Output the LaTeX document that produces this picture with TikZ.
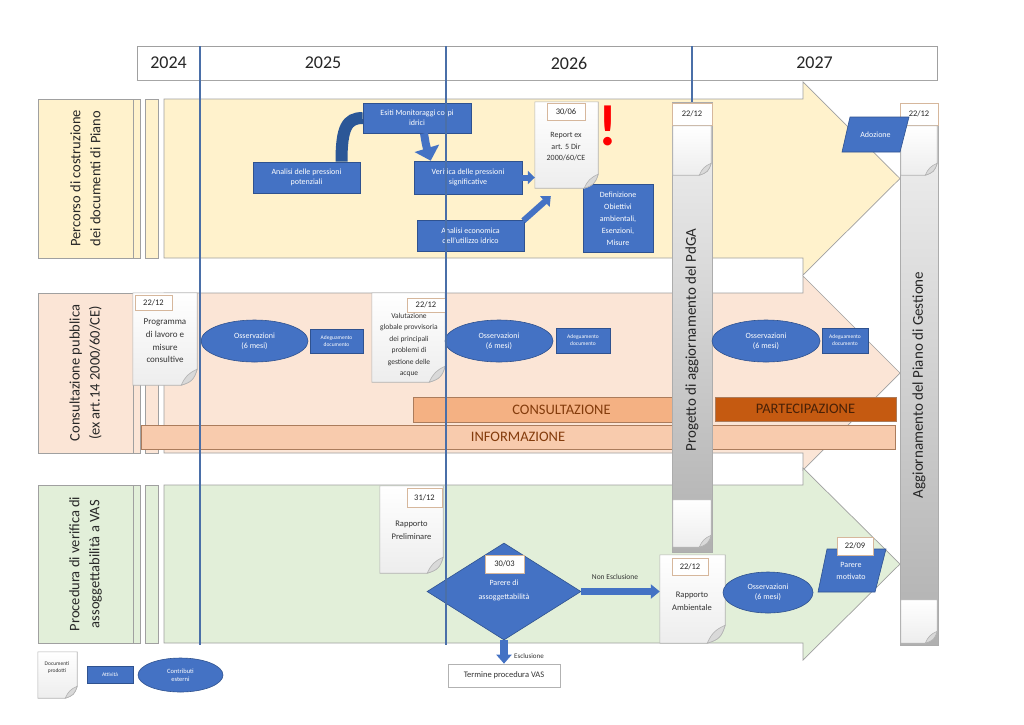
\documentclass[tikz,border=0pt]{standalone}
\usepackage{fontspec}
\setmainfont{Carlito}
\usetikzlibrary{arrows.meta,shapes.geometric,calc}
\definecolor{rowY}{HTML}{FFF2CC}
\definecolor{rowR}{HTML}{FBE5D6}
\definecolor{rowG}{HTML}{E2EFD9}
\definecolor{bxblue}{HTML}{4472C4}
\definecolor{bxborder}{HTML}{2F528F}
\definecolor{arrD}{HTML}{2B5797}
\definecolor{vlinec}{HTML}{4A6FA8}
\definecolor{consult}{HTML}{F4B183}
\definecolor{partec}{HTML}{C55A11}
\definecolor{inform}{HTML}{F8CBAD}
\definecolor{brownT}{HTML}{843C0C}
\definecolor{frame}{HTML}{A0A0A0}
\definecolor{datebd}{HTML}{D6B79C}
\newcommand\fs[2]{\fontsize{#1}{#2}\selectfont}
\newcommand\docpage[2]{%
  \draw[docline, top color=white, bottom color=gray!14]
    let \p1=(#1.north west), \p2=(#1.south east) in
    (\x1,\y1) -- (\x2,\y1) -- (\x2,{\y2+#2})
    .. controls ({\x2-0.2*#2},{\y2+0.35*#2}) and ({\x2-0.35*#2},{\y2+0.2*#2}) .. ({\x2-#2},\y2)
    -- (\x1,\y2) -- cycle;
  \draw[docline, fill=gray!30]
    let \p2=(#1.south east) in
    (\x2,{\y2+#2})
    .. controls ({\x2-0.2*#2},{\y2+0.35*#2}) and ({\x2-0.35*#2},{\y2+0.2*#2}) .. ({\x2-#2},\y2)
    .. controls ({\x2-0.75*#2},{\y2+0.55*#2}) and ({\x2-0.55*#2},{\y2+0.75*#2}) .. (\x2,{\y2+#2}) -- cycle;
}
\tikzset{
  frameline/.style={draw=frame, line width=0.7pt},
  lblbox/.style={rectangle, draw=frame, line width=0.7pt, rotate=90, align=center, font=\fs{14.5}{20}, text=black!85, inner sep=0pt},
  year/.style={font=\fs{18}{20}, text=black!85, inner sep=0pt},
  blk/.style={rectangle, fill=bxblue, draw=bxborder, line width=0.6pt, text=white, align=center, font=\fs{8}{10}, inner sep=1pt},
  ell/.style={ellipse, fill=bxblue, draw=bxborder, line width=0.6pt, text=white, align=center, font=\fs{8}{10}, inner sep=0pt},
  wtxt/.style={text=white, align=center, font=\fs{8}{10}, inner sep=0pt},
  datebox/.style={rectangle, fill=white, draw=datebd, line width=0.8pt, font=\fs{8.5}{10}, text=black!85, inner sep=0pt},
  docbox/.style={rectangle, draw=none, inner sep=0pt},
  doctxt/.style={align=center, font=\fs{8.5}{12}, text=black!80, inner sep=0pt},
  docline/.style={draw=gray!60, line width=0.6pt},
  band/.style={rectangle, draw=consult!70!black, line width=0.4pt, font=\fs{14.5}{16}, text=brownT, inner sep=0pt},
  graybar/.style={rectangle, draw=gray!65, line width=0.6pt, top color=gray!10, bottom color=gray!62, inner sep=0pt},
  bartxt/.style={rotate=90, font=\fs{15}{16}, text=black!85, inner sep=0pt},
  blockarr/.style={draw=bxblue, line width=7pt, -{Triangle[width=15pt,length=9pt]}},
  vline/.style={draw=vlinec, line width=1.4pt},
  lbl/.style={font=\fs{7.5}{9}, text=black!80, inner sep=0pt},
}
\begin{document}
\begin{tikzpicture}[x=1pt,y=-1pt]
\useasboundingbox (0,0) rectangle (1024,724);
\fill[white] (0,0) rectangle (1024,724);

% row arrows
\draw[frameline, fill=rowY] (164,99) -- (803,99) -- (803,82) -- (900,178.5) -- (803,275) -- (803,258) -- (164,258) -- cycle;
\draw[frameline, fill=rowR] (164,293) -- (803,293) -- (803,276) -- (900,373) -- (803,470) -- (803,453) -- (164,453) -- cycle;
\draw[frameline, fill=rowG] (164,485) -- (803,485) -- (803,468) -- (900,564) -- (803,660) -- (803,643) -- (164,643) -- cycle;
\foreach \ya/\yb/\c in {99/258/rowY, 293/453/rowR, 485/643/rowG}{
  \draw[frameline, fill=\c] (133,\ya) rectangle (140,\yb);
  \draw[frameline, fill=\c] (145,\ya) rectangle (158,\yb);
}
\node[lblbox, fill=rowY, minimum width=159pt, minimum height=95pt] (lbl1) at (85.5,178.5) {Percorso di costruzione\\dei documenti di Piano};
\node[lblbox, fill=rowR, minimum width=160pt, minimum height=95pt] (lbl2) at (85.5,373) {Consultazione pubblica\\(ex art.14 2000/60/CE)};
\node[lblbox, fill=rowG, minimum width=158pt, minimum height=95pt] (lbl3) at (85.5,564) {Procedura di verifica di\\assoggettabilità a VAS};

% header
\node[rectangle, draw=frame, fill=white, line width=0.7pt, minimum width=800pt, minimum height=34pt, inner sep=0pt] (hdr) at (537,63) {};
\draw[gray!70, line width=1.5pt] (hdr.south west) -- (hdr.south east);
\node[year] (y24) at (168.5,63) {2024};
\node[year] (y25) at (323,63) {2025};
\node[year] (y26) at (569,63) {2026};
\node[year] (y27) at (814.5,63) {2027};

% bands
\node[band, fill=inform, minimum width=754pt, minimum height=24pt] (info) at (518,437) {INFORMAZIONE};
\node[band, fill=consult, minimum width=297pt, minimum height=25pt] (cons) at (561.5,409.5) {CONSULTAZIONE};
\node[band, fill=partec, minimum width=181pt, minimum height=24pt, text=brownT!55!black] (part) at (805.5,409) {PARTECIPAZIONE};

% gray bars
\node[graybar, minimum width=40pt, minimum height=450pt] (bar1) at (692,327) {};
\node[datebox, minimum width=40pt, minimum height=22pt] (bar1D) at (692,114) {22/12};
\node[docbox, minimum width=38pt, minimum height=49pt] (bar1top) at (692,150.5) {};
\docpage{bar1top}{12pt}
\node[docbox, minimum width=38pt, minimum height=47pt] (bar1bot) at (692,523.5) {};
\docpage{bar1bot}{12pt}
\node[bartxt] (bar1T) at (692,340) {Progetto di aggiornamento del PdGA};

\node[graybar, minimum width=38pt, minimum height=542pt] (bar2) at (919,374) {};
\node[datebox, minimum width=38pt, minimum height=22pt] (bar2D) at (919,114) {22/12};
\node[docbox, minimum width=36pt, minimum height=49pt] (bar2top) at (919,150.5) {};
\docpage{bar2top}{12pt}
\node[docbox, minimum width=36pt, minimum height=43pt] (bar2bot) at (919,621.5) {};
\docpage{bar2bot}{12pt}
\node[bartxt] (bar2T) at (919,385) {Aggiornamento del Piano di Gestione};

% adozione
\draw[fill=bxblue, draw=bxborder, line width=0.6pt] (850,117) -- (909,117) -- (900,152) -- (842,152) -- cycle;
\node[wtxt] (adoz) at (875.5,134.5) {Adozione};

% row 1
\node[blk, minimum width=108pt, minimum height=30pt] (esiti) at (417,118) {Esiti Monitoraggi corpi\\idrici};
\node[blk, minimum width=107pt, minimum height=31pt] (analisi) at (306.5,177.5) {Analisi delle pressioni\\potenziali};
\node[blk, minimum width=108pt, minimum height=33pt] (verifica) at (468,177.5) {Verifica delle pressioni\\significative};
\node[blk, minimum width=107pt, minimum height=31pt] (econ) at (470.5,235.5) {Analisi economica\\dell'utilizzo idrico};
\node[blk, minimum width=70pt, minimum height=68pt, font=\fs{8}{12}] (defin) at (618,218.5) {Definizione\\Obiettivi\\ambientali,\\Esenzioni,\\Misure};
\node[docbox, minimum width=63pt, minimum height=86pt] (report) at (566.5,145) {};
\docpage{report}{14pt}
\node[datebox, minimum width=38pt, minimum height=17pt] (reportD) at (566,111.5) {30/06};
\node[doctxt, font=\fs{8}{11.5}] (reportT) at (566,147) {Report ex\\art. 5 Dir\\2000/60/CE};
\node[text=red, font=\fs{58}{58}\bfseries, inner sep=0pt] (excl) at (608,126) {!};

\draw[draw=arrD, line width=12pt] ($(analisi.north)+(35,0)$) .. controls ($(analisi.north)+(35,-34)$) and ($(esiti.west)+(-16,0)$) .. (esiti.west);
\draw[blockarr, line width=8pt, -{Triangle[width=25pt,length=13pt]}] ($(esiti.south)+(7,0)$) .. controls ($(esiti.south)+(9,12)$) .. ($(verifica.north west)+(17,0)$);
\draw[blockarr, line width=6pt, -{Triangle[width=13pt,length=7pt]}] (verifica.east) -- (verifica.east -| report.west);
\draw[blockarr, line width=6pt, -{Triangle[width=14pt,length=8pt]}] ($(econ.north east)+(-1,1)$) -- ($(report.south west)+(16,8)$);

% row 2
\node[docbox, minimum width=64pt, minimum height=92pt] (prog) at (165,339) {};
\docpage{prog}{16pt}
\node[datebox, minimum width=37pt, minimum height=15pt] (progD) at (153.5,302.5) {22/12};
\node[doctxt, font=\fs{9}{12.7}] (progT) at (165,341) {Programma\\di lavoro e\\misure\\consultive};
\node[ell, minimum width=107pt, minimum height=42pt] (oss1) at (254.5,341) {Osservazioni\\(6 mesi)};
\node[blk, minimum width=53pt, minimum height=24pt, font=\fs{5.5}{7}] (adeg1) at (336.5,341) {Adeguamento\\documento};

\node[docbox, minimum width=73pt, minimum height=89pt] (valut) at (408.5,337.5) {};
\docpage{valut}{16pt}
\node[datebox, minimum width=38pt, minimum height=14pt] (valutD) at (426,305) {22/12};
\node[doctxt, font=\fs{7.5}{11.5}] (valutT) at (409,345) {Valutazione\\globale provvisoria\\dei principali\\problemi di\\gestione delle\\acque};
\node[ell, minimum width=108pt, minimum height=42pt] (oss2) at (499,341) {Osservazioni\\(6 mesi)};
\node[blk, minimum width=54pt, minimum height=25pt, font=\fs{5.5}{7}] (adeg2) at (583,340.5) {Adeguamento\\documento};
\node[ell, minimum width=108pt, minimum height=42pt] (oss3) at (766,341) {Osservazioni\\(6 mesi)};
\node[blk, minimum width=46pt, minimum height=25pt, font=\fs{5.5}{7}] (adeg3) at (845,340.5) {Adeguamento\\documento};

% row 3
\node[docbox, minimum width=63pt, minimum height=87pt] (rprel) at (411.5,529.5) {};
\docpage{rprel}{16pt}
\node[datebox, minimum width=35pt, minimum height=19pt] (rprelD) at (424.5,497.5) {31/12};
\node[doctxt, font=\fs{8.5}{13}] (rprelT) at (411.5,530) {Rapporto\\Preliminare};

\node[diamond, fill=bxblue, draw=bxborder, line width=0.6pt, minimum width=154pt, minimum height=97pt, inner sep=0pt] (parere) at (504,591.5) {};
\node[datebox, minimum width=39pt, minimum height=18pt] (parereD) at (504.5,564) {30/03};
\node[wtxt, font=\fs{8}{14}] (parereT) at (504,590) {Parere di\\assoggettabilità};
\node[rectangle, draw=gray!60, fill=white, line width=0.7pt, minimum width=112pt, minimum height=23pt, font=\fs{8.5}{10}, text=black!80, inner sep=0pt] (termine) at (504,675.5) {Termine procedura VAS};

\node[docbox, minimum width=65pt, minimum height=88pt] (ramb) at (692.5,599) {};
\docpage{ramb}{18pt}
\node[datebox, minimum width=36pt, minimum height=17pt] (rambD) at (690,566.5) {22/12};
\node[doctxt, font=\fs{8.5}{13}] (rambT) at (692,601) {Rapporto\\Ambientale};
\node[ell, minimum width=90pt, minimum height=41pt] (oss4) at (768,592.5) {Osservazioni\\(6 mesi)};
\draw[fill=bxblue, draw=bxborder, line width=0.6pt] (827,549) -- (886,549) -- (875,592) -- (818,592) -- cycle;
\node[wtxt, font=\fs{8}{12}] (pmot) at (851,571) {Parere\\motivato};
\node[datebox, minimum width=36pt, minimum height=18pt] (pmotD) at (855,546) {22/09};

\draw[blockarr, line width=7pt, -{Triangle[width=14pt,length=9pt]}] (parere.east) -- (parere.east -| ramb.west);
\node[lbl] (nonesc) at (615,577) {Non Esclusione};
\draw[blockarr, line width=8pt, -{Triangle[width=15pt,length=9pt]}] (parere.south) -- (termine.north);
\node[lbl, font=\fs{7}{8}] (esc) at (529,656) {Esclusione};

% legend
\node[docbox, minimum width=39pt, minimum height=46pt] (legdoc) at (57.5,675) {};
\docpage{legdoc}{12pt}
\node[doctxt, font=\fs{5.5}{7}] (legdocT) at (57,668) {Documenti\\prodotti};
\node[blk, minimum width=46pt, minimum height=17pt, font=\fs{5.5}{7}] (attiv) at (110,674.5) {Attività};
\node[ell, minimum width=85pt, minimum height=34pt, font=\fs{6.5}{8}] (contrib) at (180.5,675) {Contributi\\esterni};

% vertical year lines
\draw[vline] (200,46) -- (200,645);
\draw[vline] (446,46) -- (446,645);
\draw[vline] (692,46) -- (692,102);
\end{tikzpicture}
\end{document}
